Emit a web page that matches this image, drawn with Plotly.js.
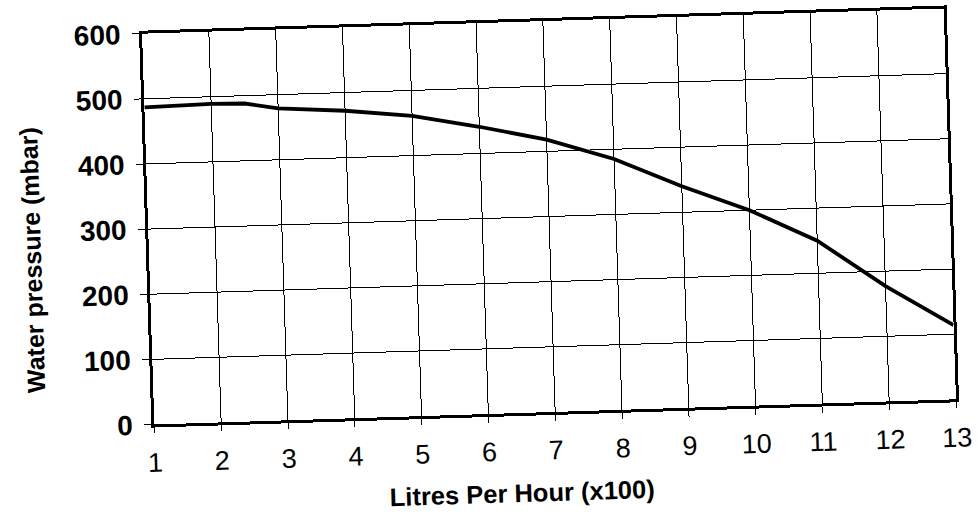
<!DOCTYPE html>
<html>
<head>
<meta charset="utf-8">
<script src="https://cdn.plot.ly/plotly-3.0.1.min.js"></script>
<style>
  html, body { margin: 0; padding: 0; background: #ffffff; overflow: hidden; }
  #chart { width: 978px; height: 515px; transform: rotate(-1.8deg); transform-origin: 549px 216.5px; }
</style>
</head>
<body>
<div id="chart"></div>
<script>
// Data
const flowLitresPerHourX100 = [1, 2, 2.5, 3, 4, 5, 6, 6.5, 7, 8, 9, 10, 11, 12, 13];
const waterPressureMbar     = [487, 489, 488, 479, 472, 461, 441, 430, 418, 385, 340, 300, 250, 177, 114];
const xTickValues = [1, 2, 3, 4, 5, 6, 7, 8, 9, 10, 11, 12, 13];
const yTickValues = [0, 100, 200, 300, 400, 500, 600];
const xAxisTitle = "Litres Per Hour (x100)";
const yAxisTitle = "Water pressure (mbar)";

const FONT = "Liberation Sans, Arial, Helvetica, sans-serif";

const trace = {
  x: flowLitresPerHourX100,
  y: waterPressureMbar,
  type: "scatter",
  mode: "lines",
  line: { color: "#000000", width: 3.8 },
  hoverinfo: "x+y",
  showlegend: false
};

const layout = {
  width: 978,
  height: 515,
  margin: { l: 148, r: 28, t: 21, b: 103 },
  paper_bgcolor: "#ffffff",
  plot_bgcolor: "#ffffff",
  showlegend: false,
  xaxis: {
    range: [1, 13],
    tickvals: xTickValues,
    ticktext: xTickValues.map(String),
    ticks: "outside",
    ticklen: 6,
    tickwidth: 1,
    tickcolor: "#000000",
    showgrid: true,
    gridcolor: "#000000",
    gridwidth: 1,
    zeroline: false,
    showline: true,
    linecolor: "#000000",
    linewidth: 3,
    mirror: true,
    ticklabelstandoff: 6,
    tickfont: { family: FONT, size: 27, color: "#000000" }
  },
  yaxis: {
    range: [0, 600],
    tickvals: yTickValues,
    ticktext: yTickValues.map(String),
    ticks: "outside",
    ticklen: 7,
    tickwidth: 1,
    tickcolor: "#000000",
    showgrid: true,
    gridcolor: "#000000",
    gridwidth: 1,
    zeroline: false,
    showline: true,
    linecolor: "#000000",
    linewidth: 3,
    mirror: true,
    ticklabelstandoff: 6,
    tickfont: { family: FONT, size: 28, color: "#000000", weight: "bold" }
  },
  annotations: [
    {
      text: xAxisTitle,
      xref: "paper", yref: "paper",
      x: 0.456, y: -0.205,
      xanchor: "center", yanchor: "middle",
      showarrow: false,
      font: { family: FONT, size: 25.5, color: "#000000", weight: "bold" }
    },
    {
      text: yAxisTitle,
      xref: "paper", yref: "paper",
      x: -0.146, y: 0.43,
      xanchor: "center", yanchor: "middle",
      textangle: -90,
      showarrow: false,
      font: { family: FONT, size: 25, color: "#000000", weight: "bold" }
    }
  ]
};

Plotly.newPlot("chart", [trace], layout, { displayModeBar: false, staticPlot: true });
</script>
</body>
</html>
